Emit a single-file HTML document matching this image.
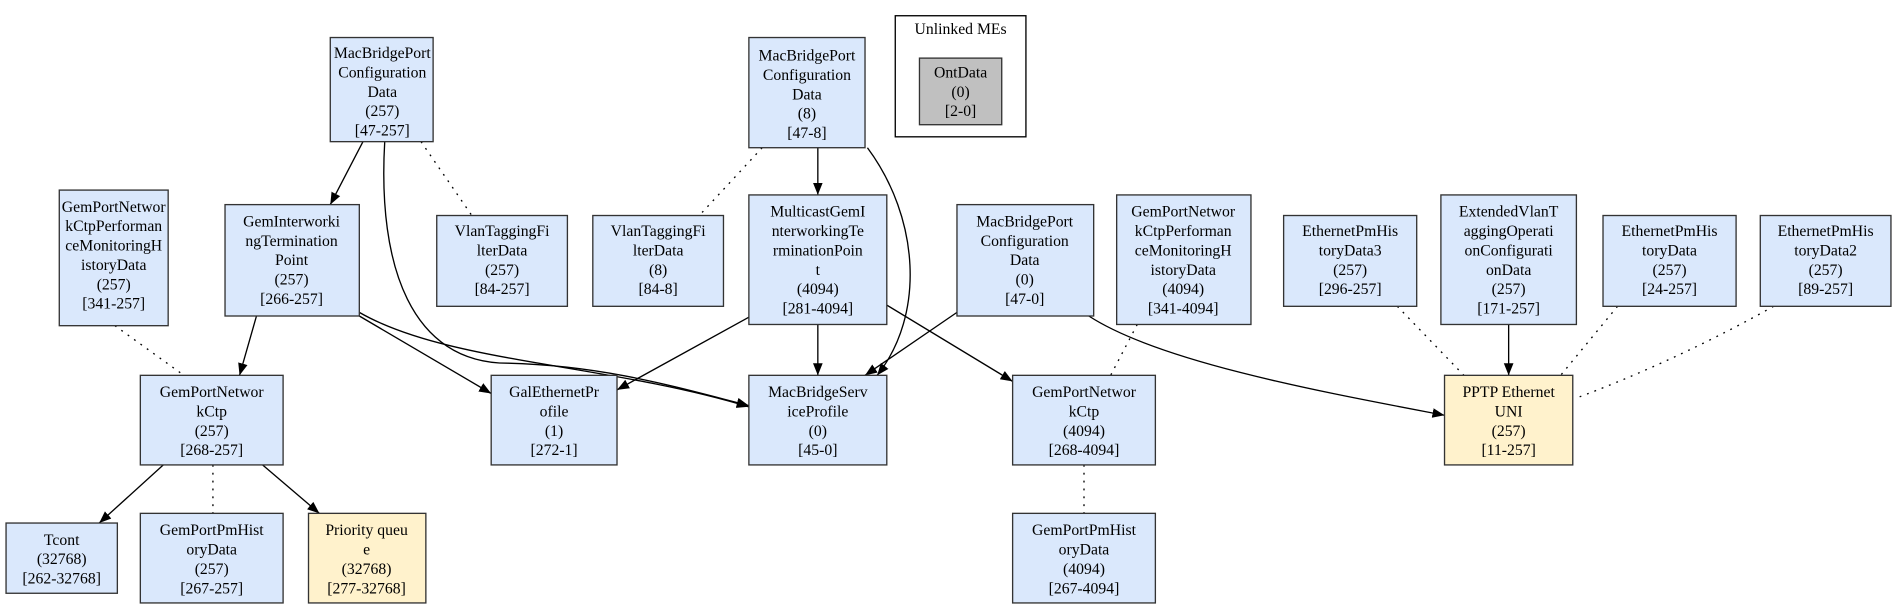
<!DOCTYPE html>
<html><head><meta charset="utf-8"><style>
html,body{margin:0;padding:0;background:#fff;}
svg{display:block;}
text{font-family:"Liberation Serif",serif;font-size:13px;fill:#000;text-anchor:middle;}
.b{fill:#dae8fc;stroke:#333;stroke-width:1.1;}
.y{fill:#fff2cc;stroke:#333;stroke-width:1.1;}
.g{fill:#c0c0c0;stroke:#333;stroke-width:1.1;}
.e{fill:none;stroke:#000;stroke-width:1.1;}
.d{fill:none;stroke:#000;stroke-width:1.1;stroke-dasharray:1.5,5;}
</style></head><body>
<svg width="1897" height="609" viewBox="0 0 1568 503" preserveAspectRatio="none" xmlns="http://www.w3.org/2000/svg">
<defs><marker id="a" viewBox="0 0 10 10" refX="10" refY="5" markerWidth="10" markerHeight="10" markerUnits="userSpaceOnUse" orient="auto"><path d="M0,1 L10,5 L0,9 z" fill="#000"/></marker></defs>

<path class="e" marker-end="url(#a)" d="M300,117 L273,169"/>
<path class="e" marker-end="url(#a)" d="M318,117 C312,220 340,300 420,300 C500,302 560,320 619,335"/>
<path class="d" d="M348,117 L390,178"/>
<path class="e" marker-end="url(#a)" d="M212,261 L198,310"/>
<path class="e" marker-end="url(#a)" d="M297,261 L406,325"/>
<path class="e" marker-end="url(#a)" d="M297,258 C370,300 500,300 619,336"/>
<path class="d" d="M95,269 L152,310"/>
<path class="e" marker-end="url(#a)" d="M135,384 L82,432"/>
<path class="d" d="M176,384 L176,424"/>
<path class="e" marker-end="url(#a)" d="M217,384 L264,424"/>
<path class="e" marker-end="url(#a)" d="M676,122 L676,161"/>
<path class="d" d="M630,122 L578,178"/>
<path class="e" marker-end="url(#a)" d="M717,122 C760,180 765,260 725,310"/>
<path class="e" marker-end="url(#a)" d="M619,262 L510,322"/>
<path class="e" marker-end="url(#a)" d="M676,268 L676,310"/>
<path class="e" marker-end="url(#a)" d="M733,252 L837,315"/>
<path class="e" marker-end="url(#a)" d="M791,258 L715,310"/>
<path class="e" marker-end="url(#a)" d="M900,261 C960,300 1100,325 1194,343"/>
<path class="d" d="M940,268 L918,310"/>
<path class="d" d="M896,384 L896,424"/>
<path class="d" d="M1155,253 L1210,310"/>
<path class="e" marker-end="url(#a)" d="M1247,268 L1247,310"/>
<path class="d" d="M1337,253 L1290,310"/>
<path class="d" d="M1466,253 C1400,290 1340,315 1305,328"/>

<rect x="740" y="13" width="108" height="100" fill="#fff" stroke="#000" stroke-width="1.1"/>
<text x="794" y="28">Unlinked MEs</text>
<rect class="g" x="760" y="48" width="68" height="55"/>
<text x="794" y="64">OntData</text><text x="794" y="80">(0)</text><text x="794" y="96">[2-0]</text>

<rect class="b" x="273" y="31" width="85" height="86"/>
<text x="316" y="48">MacBridgePort</text><text x="316" y="64">Configuration</text><text x="316" y="80">Data</text><text x="316" y="96">(257)</text><text x="316" y="112">[47-257]</text>

<rect class="b" x="619" y="31" width="96" height="91"/>
<text x="667" y="50">MacBridgePort</text><text x="667" y="66">Configuration</text><text x="667" y="82">Data</text><text x="667" y="98">(8)</text><text x="667" y="114">[47-8]</text>

<rect class="b" x="49" y="157" width="90" height="112"/>
<text x="94" y="175">GemPortNetwor</text><text x="94" y="191">kCtpPerforman</text><text x="94" y="207">ceMonitoringH</text><text x="94" y="223">istoryData</text><text x="94" y="239">(257)</text><text x="94" y="255">[341-257]</text>

<rect class="b" x="186" y="169" width="111" height="92"/>
<text x="241" y="187">GemInterworki</text><text x="241" y="203">ngTermination</text><text x="241" y="219">Point</text><text x="241" y="235">(257)</text><text x="241" y="251">[266-257]</text>

<rect class="b" x="361" y="178" width="108" height="75"/>
<text x="415" y="195">VlanTaggingFi</text><text x="415" y="211">lterData</text><text x="415" y="227">(257)</text><text x="415" y="243">[84-257]</text>

<rect class="b" x="490" y="178" width="108" height="75"/>
<text x="544" y="195">VlanTaggingFi</text><text x="544" y="211">lterData</text><text x="544" y="227">(8)</text><text x="544" y="243">[84-8]</text>

<rect class="b" x="619" y="161" width="114" height="107"/>
<text x="676" y="179">MulticastGemI</text><text x="676" y="195">nterworkingTe</text><text x="676" y="211">rminationPoin</text><text x="676" y="227">t</text><text x="676" y="243">(4094)</text><text x="676" y="259">[281-4094]</text>

<rect class="b" x="791" y="169" width="113" height="92"/>
<text x="847" y="187">MacBridgePort</text><text x="847" y="203">Configuration</text><text x="847" y="219">Data</text><text x="847" y="235">(0)</text><text x="847" y="251">[47-0]</text>

<rect class="b" x="923" y="161" width="111" height="107"/>
<text x="978" y="179">GemPortNetwor</text><text x="978" y="195">kCtpPerforman</text><text x="978" y="211">ceMonitoringH</text><text x="978" y="227">istoryData</text><text x="978" y="243">(4094)</text><text x="978" y="259">[341-4094]</text>

<rect class="b" x="1061" y="178" width="110" height="75"/>
<text x="1116" y="195">EthernetPmHis</text><text x="1116" y="211">toryData3</text><text x="1116" y="227">(257)</text><text x="1116" y="243">[296-257]</text>

<rect class="b" x="1191" y="161" width="112" height="107"/>
<text x="1247" y="179">ExtendedVlanT</text><text x="1247" y="195">aggingOperati</text><text x="1247" y="211">onConfigurati</text><text x="1247" y="227">onData</text><text x="1247" y="243">(257)</text><text x="1247" y="259">[171-257]</text>

<rect class="b" x="1325" y="178" width="110" height="75"/>
<text x="1380" y="195">EthernetPmHis</text><text x="1380" y="211">toryData</text><text x="1380" y="227">(257)</text><text x="1380" y="243">[24-257]</text>

<rect class="b" x="1455" y="178" width="108" height="75"/>
<text x="1509" y="195">EthernetPmHis</text><text x="1509" y="211">toryData2</text><text x="1509" y="227">(257)</text><text x="1509" y="243">[89-257]</text>

<rect class="b" x="116" y="310" width="118" height="74"/>
<text x="175" y="328">GemPortNetwor</text><text x="175" y="344">kCtp</text><text x="175" y="360">(257)</text><text x="175" y="376">[268-257]</text>

<rect class="b" x="406" y="310" width="104" height="74"/>
<text x="458" y="328">GalEthernetPr</text><text x="458" y="344">ofile</text><text x="458" y="360">(1)</text><text x="458" y="376">[272-1]</text>

<rect class="b" x="619" y="310" width="114" height="74"/>
<text x="676" y="328">MacBridgeServ</text><text x="676" y="344">iceProfile</text><text x="676" y="360">(0)</text><text x="676" y="376">[45-0]</text>

<rect class="b" x="837" y="310" width="118" height="74"/>
<text x="896" y="328">GemPortNetwor</text><text x="896" y="344">kCtp</text><text x="896" y="360">(4094)</text><text x="896" y="376">[268-4094]</text>

<rect class="y" x="1194" y="310" width="106" height="74"/>
<text x="1247" y="328">PPTP Ethernet</text><text x="1247" y="344">UNI</text><text x="1247" y="360">(257)</text><text x="1247" y="376">[11-257]</text>

<rect class="b" x="5" y="432" width="92" height="58"/>
<text x="51" y="450">Tcont</text><text x="51" y="466">(32768)</text><text x="51" y="482">[262-32768]</text>

<rect class="b" x="116" y="424" width="118" height="74"/>
<text x="175" y="442">GemPortPmHist</text><text x="175" y="458">oryData</text><text x="175" y="474">(257)</text><text x="175" y="490">[267-257]</text>

<rect class="y" x="255" y="424" width="97" height="74"/>
<text x="303" y="442">Priority queu</text><text x="303" y="458">e</text><text x="303" y="474">(32768)</text><text x="303" y="490">[277-32768]</text>

<rect class="b" x="837" y="424" width="118" height="74"/>
<text x="896" y="442">GemPortPmHist</text><text x="896" y="458">oryData</text><text x="896" y="474">(4094)</text><text x="896" y="490">[267-4094]</text>
</svg>
</body></html>
